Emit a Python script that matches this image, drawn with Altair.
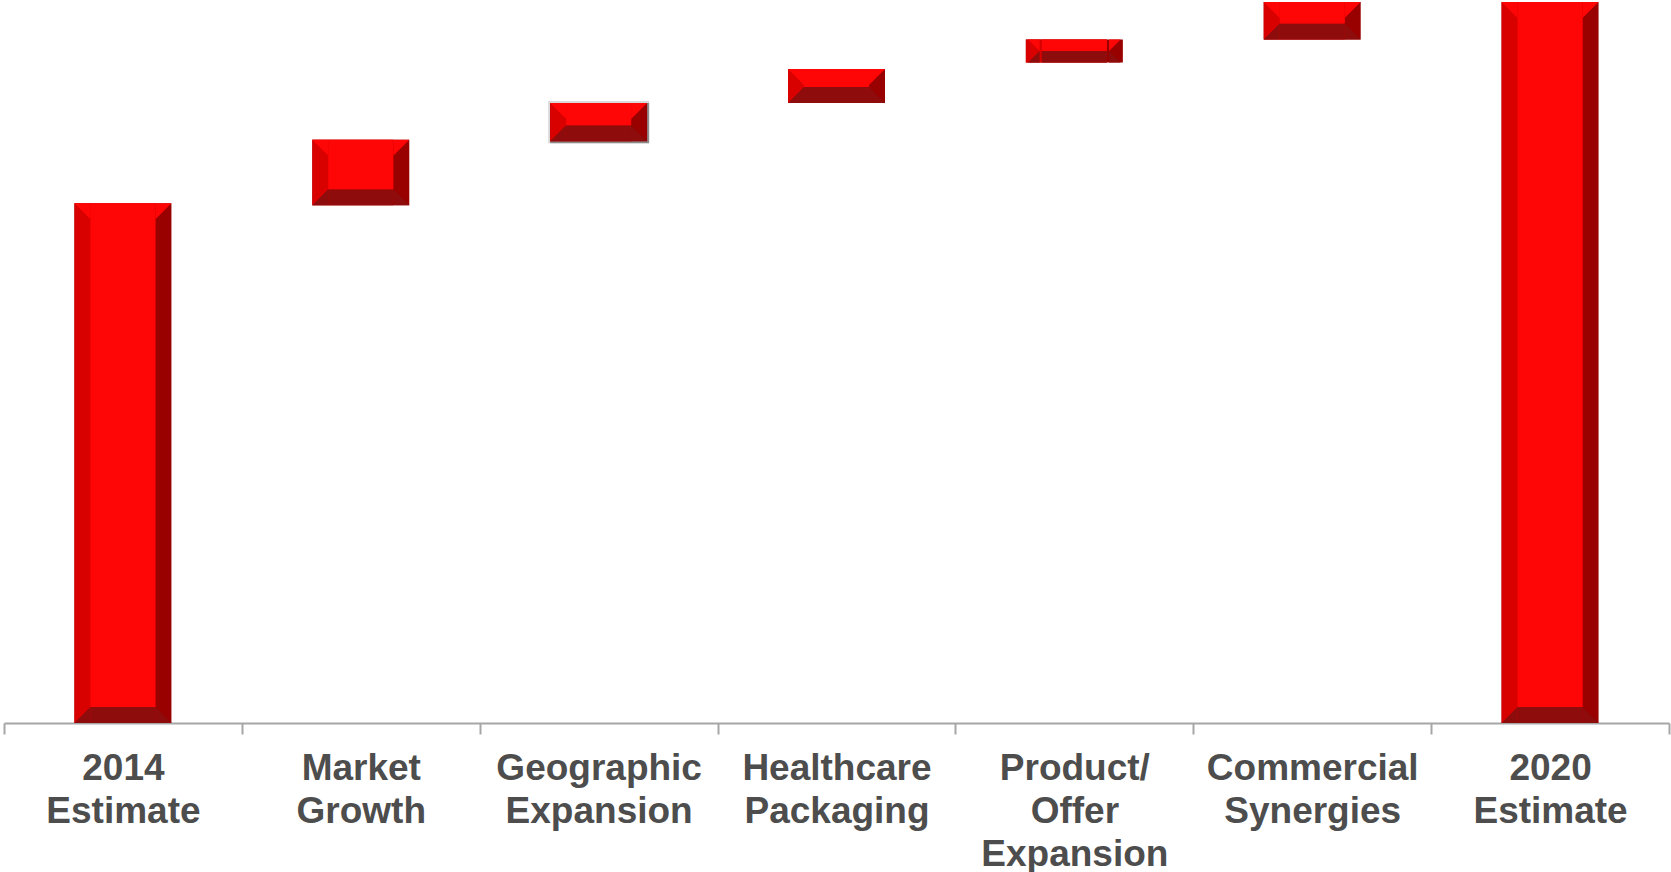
import altair as alt
import pandas as pd

categories = ["2014 Estimate", "Market Growth", "Geographic Expansion",
              "Healthcare Packaging", "Product/ Offer Expansion",
              "Commercial Synergies", "2020 Estimate"]
bar_bottom = [0, 71.8, 80.7, 86.0, 91.6, 94.8, 0]
bar_top = [72.1, 80.9, 86.0, 90.7, 94.8, 100, 100]
outlined = [False, False, True, False, False, False, False]

df = pd.DataFrame({"cat": categories, "lo": bar_bottom, "hi": bar_top, "outlined": outlined})

BAR_W = 97
BEV = 16
PLOT_H = 721
PX = 100 / PLOT_H          # data units per pixel
BEV_U = BEV * PX

base = alt.Chart(df).transform_calculate(
    bev="min(%f, (datum.hi - datum.lo) / 2)" % BEV_U
).transform_calculate(
    lo_b="datum.lo + datum.bev",
    bc_y="datum.lo + datum.bev / 2",
    tc_y="datum.hi - datum.bev / 2",
    csize="pow(datum.bev / %f, 2)" % PX,
    sh_lo="datum.lo - %f" % (2 * PX),
    sh_hi="datum.hi + %f" % (2 * PX),
)

x = alt.X("cat:N", sort=categories,
          scale=alt.Scale(paddingInner=0, paddingOuter=0),
          axis=alt.Axis(title=None, labelAngle=0, labelExpr="split(datum.label, ' ')",
                        tickBand="extent", labelLimit=0))
ysc = alt.Scale(domain=[0, 100], nice=False, zero=True)


def yq(field):
    return alt.Y(field + ":Q", scale=ysc, axis=None)


shadow = base.transform_filter("datum.outlined").mark_bar(width=BAR_W + 4, color="#D9D9D9").encode(
    x=x, y=yq("sh_lo"), y2="sh_hi:Q")
shadow2 = base.transform_filter("datum.outlined").mark_bar(width=BAR_W + 2, xOffset=1, color="#8C8C8C").encode(
    x=x, y=yq("sh_lo"), y2="hi:Q")
right = base.mark_bar(width=BAR_W, color="#990000").encode(x=x, y=yq("lo"), y2="hi:Q")
left = base.mark_bar(width=BAR_W - BEV, xOffset=-BEV / 2, color="#D90000").encode(x=x, y=yq("lo"), y2="hi:Q")
bottom = base.mark_bar(width=BAR_W - 2 * BEV, color="#8E0C0C").encode(x=x, y=yq("lo"), y2="lo_b:Q")
center = base.mark_bar(width=BAR_W - 2 * BEV, color="#FF0606").encode(x=x, y=yq("lo_b"), y2="hi:Q")

off = BAR_W / 2 - BEV / 2
tri_tl = "M -1 -1 L 1 -1 L 1 1 Z"
tri_tr = "M 1 -1 L -1 -1 L -1 1 Z"
tri_bl = "M -1 1 L 1 1 L 1 -1 Z"
tri_br = "M 1 1 L -1 1 L -1 -1 Z"

size_enc = alt.Size("csize:Q", scale=None, legend=None)
c_tl = base.mark_point(shape=tri_tl, filled=True, opacity=1, strokeWidth=0, color="#FF0606",
                       xOffset=-off).encode(x=x, y=yq("tc_y"), size=size_enc)
c_tr = base.mark_point(shape=tri_tr, filled=True, opacity=1, strokeWidth=0, color="#FF0606",
                       xOffset=off).encode(x=x, y=yq("tc_y"), size=size_enc)
c_bl = base.mark_point(shape=tri_bl, filled=True, opacity=1, strokeWidth=0, color="#8E0C0C",
                       xOffset=-off).encode(x=x, y=yq("bc_y"), size=size_enc)
c_br = base.mark_point(shape=tri_br, filled=True, opacity=1, strokeWidth=0, color="#8E0C0C",
                       xOffset=off).encode(x=x, y=yq("bc_y"), size=size_enc)

chart = alt.layer(shadow, shadow2, right, left, bottom, center, c_tl, c_tr, c_bl, c_br).properties(
    width=1665, height=PLOT_H,
    autosize=alt.AutoSizeParams(type="none"),
    padding={"left": 4, "top": 2, "right": 2, "bottom": 149},
).configure_view(stroke=None).configure_axis(
    domainColor="#A6A6A6", domainWidth=2, tickColor="#A6A6A6", tickWidth=2, tickSize=11,
    labelFont="Liberation Sans", labelFontWeight="bold", labelFontSize=37,
    labelColor="#4D4D4D", labelLineHeight=43, labelBaseline="alphabetic", labelPadding=45,
    grid=False,
)

chart.save("out.html", embed_options={"renderer": "svg", "actions": False})
